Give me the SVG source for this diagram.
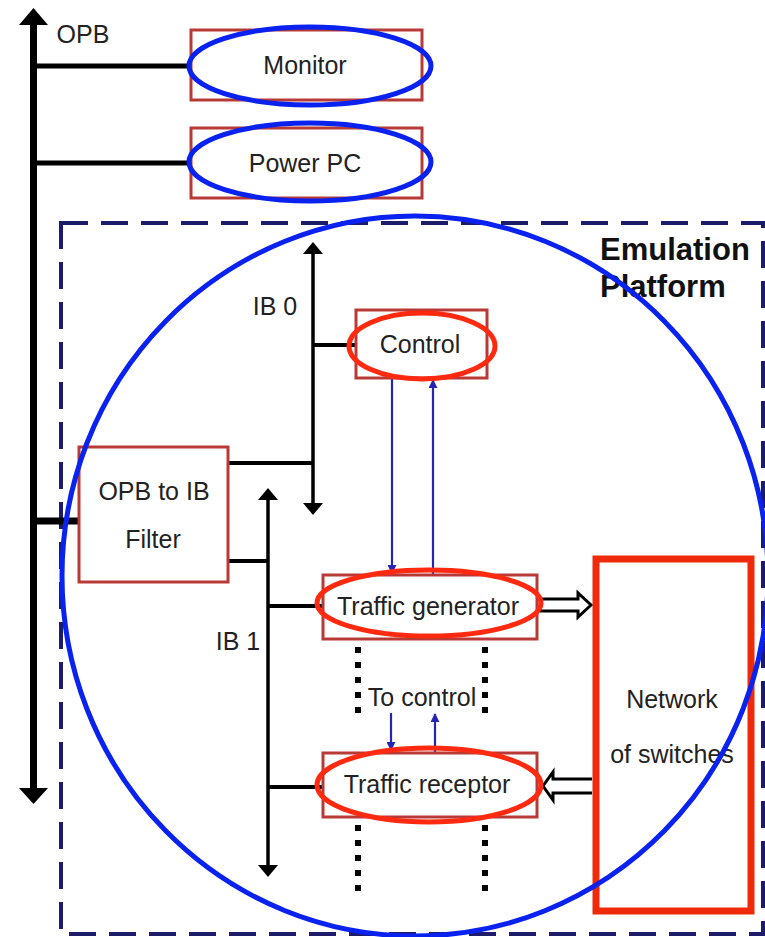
<svg xmlns="http://www.w3.org/2000/svg" width="765" height="937" viewBox="0 0 765 937">
<style>
.box{fill:none;stroke:#b83a36;stroke-width:3}
.lbl{font-family:"Liberation Sans",Arial,sans-serif;font-size:25px;fill:#222;text-anchor:middle}
.bus{stroke:#000;fill:none}
.ctl{stroke:#2626b4;stroke-width:2.2;fill:none}
.dots{stroke:#000;stroke-width:6;stroke-dasharray:6 9;fill:none}
.hol{fill:#fff;stroke:#000;stroke-width:3;stroke-linejoin:miter}
.bov{fill:none;stroke:#0a22f0;stroke-width:5}
.rov{fill:none;stroke:#ff2a10;stroke-width:5}
</style>
<defs>
<marker id="ah" viewBox="0 0 10 10" refX="9" refY="5" markerWidth="9" markerHeight="9" markerUnits="userSpaceOnUse" orient="auto"><path d="M0,0 L10,5 L0,10 Z" fill="#2626b4"/></marker>
</defs>
<rect width="765" height="937" fill="#fff"/>

<g id="emulation-platform">
<rect x="61" y="223" width="702" height="711" fill="none" stroke="#1c1c6a" stroke-width="4" stroke-dasharray="27 13"/>
<text x="600" y="260" font-family="'Liberation Sans',Arial,sans-serif" font-size="31" font-weight="bold" fill="#111">Emulation</text>
<text x="600" y="297" font-family="'Liberation Sans',Arial,sans-serif" font-size="31" font-weight="bold" fill="#111">Platform</text>
</g>

<g id="connectors">
<line class="bus" x1="33.5" y1="22" x2="33.5" y2="792" stroke-width="7"/>
<polygon points="33.5,8 48,25 19,25" fill="#000"/>
<polygon points="33.5,804 48,788 19,788" fill="#000"/>
<line class="bus" x1="34" y1="66" x2="191" y2="66" stroke-width="5"/>
<line class="bus" x1="34" y1="163" x2="191" y2="163" stroke-width="5"/>
<line class="bus" x1="34" y1="521" x2="79" y2="521" stroke-width="7"/>
<line class="bus" x1="313" y1="250" x2="313" y2="505" stroke-width="3.5"/>
<polygon points="313,242 323,254 303,254" fill="#000"/>
<polygon points="313,515 323,503 303,503" fill="#000"/>
<line class="bus" x1="228" y1="463" x2="313" y2="463" stroke-width="4"/>
<line class="bus" x1="313" y1="345" x2="355" y2="345" stroke-width="4"/>
<line class="bus" x1="268" y1="496" x2="268" y2="868" stroke-width="3.5"/>
<polygon points="268,488 278,500 258,500" fill="#000"/>
<polygon points="268,877 278,865 258,865" fill="#000"/>
<line class="bus" x1="228" y1="561" x2="268" y2="561" stroke-width="4"/>
<line class="bus" x1="268" y1="606" x2="323" y2="606" stroke-width="4"/>
<line class="bus" x1="268" y1="787" x2="323" y2="787" stroke-width="4"/>
<line class="ctl" x1="392" y1="378" x2="392" y2="573" marker-end="url(#ah)"/>
<line class="ctl" x1="433" y1="574" x2="433" y2="380" marker-end="url(#ah)"/>
<line class="ctl" x1="391" y1="713" x2="391" y2="750" marker-end="url(#ah)"/>
<line class="ctl" x1="435" y1="753" x2="435" y2="714" marker-end="url(#ah)"/>
<line class="dots" x1="358" y1="647" x2="358" y2="715"/>
<line class="dots" x1="485" y1="647" x2="485" y2="715"/>
<line class="dots" x1="358" y1="825" x2="358" y2="893"/>
<line class="dots" x1="485" y1="825" x2="485" y2="893"/>
<path class="hol" d="M540,599 H578 V593 L591,605 L578,617 V611 H540"/>
<path class="hol" d="M592,779 H553 V772 L543,786 L553,800 V793 H592"/>
</g>

<text class="lbl" x="83" y="43">OPB</text>
<text class="lbl" x="275" y="315">IB 0</text>
<text class="lbl" x="238" y="650">IB 1</text>
<text class="lbl" x="422" y="706">To control</text>

<g id="monitor">
<rect class="box" x="191" y="30" width="231" height="70"/>
<text class="lbl" x="305" y="74" font-size="26">Monitor</text>
<ellipse class="bov" cx="310" cy="66" rx="121" ry="39"/>
</g>

<g id="powerpc">
<rect class="box" x="191" y="128" width="231" height="70"/>
<text class="lbl" x="305" y="172" font-size="26">Power PC</text>
<ellipse class="bov" cx="310" cy="162" rx="121" ry="39"/>
</g>

<g id="filter">
<rect class="box" x="79" y="447" width="149" height="135"/>
<text class="lbl" x="154" y="500">OPB to IB</text>
<text class="lbl" x="153" y="548">Filter</text>
</g>

<g id="control">
<rect class="box" x="356" y="310" width="131" height="68"/>
<text class="lbl" x="420" y="353">Control</text>
<ellipse class="rov" cx="422" cy="346" rx="73" ry="33"/>
</g>

<g id="generator">
<rect class="box" x="323" y="575" width="214" height="64"/>
<text class="lbl" x="428" y="615" font-size="26">Traffic generator</text>
<ellipse class="rov" cx="429" cy="603" rx="112" ry="33"/>
</g>

<g id="receptor">
<rect class="box" x="323" y="753" width="214" height="64"/>
<text class="lbl" x="427" y="793" font-size="26">Traffic receptor</text>
<ellipse class="rov" cx="429" cy="785" rx="112" ry="37"/>
</g>

<g id="network">
<rect x="596" y="559" width="155" height="352" fill="none" stroke="#ee2a0a" stroke-width="7"/>
<text class="lbl" x="672" y="708" font-size="26">Network</text>
<text class="lbl" x="672" y="763" font-size="26">of switches</text>
</g>

<g id="platform-outline">
<ellipse class="bov" cx="415" cy="576" rx="353" ry="360"/>
</g>
</svg>
